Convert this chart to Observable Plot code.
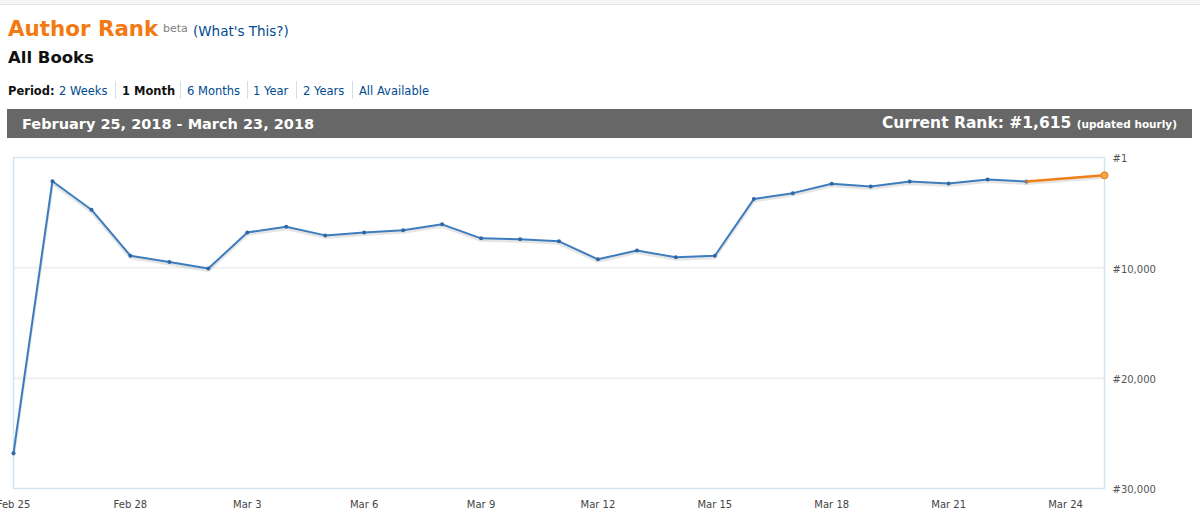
<!DOCTYPE html>
<html>
<head>
<meta charset="utf-8">
<script src="https://cdn.jsdelivr.net/npm/d3@7"></script>
<script src="https://cdn.jsdelivr.net/npm/@observablehq/plot@0.6"></script>
<style>
  body { margin:0; width:1200px; height:526px; overflow:hidden; background:#fff; position:relative;
         font-family:"DejaVu Sans", Verdana, sans-serif; }
  .abs { position:absolute; white-space:nowrap; line-height:1; }
  #topline { position:absolute; left:0; top:0; width:1200px; height:4px; background:#f4f4f4; border-bottom:1px solid #e4e4e4; }
  #t1 { left:8px; top:18px; font-size:21.4px; font-weight:bold; color:#f37a12; }
  #beta { left:163px; top:23px; font-size:11px; color:#808080; }
  #what { left:193px; top:25px; font-size:13.5px; color:#004b91; }
  #books { left:8px; top:50px; font-size:16.5px; font-weight:bold; color:#111; }
  .per { top:85.5px; font-size:11.5px; color:#004b91; }
  .per.b { font-weight:bold; color:#111; }
  .sep { position:absolute; top:81px; width:1px; height:18px; background:#d3dfe9; }
  #bar { position:absolute; left:7px; top:109px; width:1185px; height:29px; background:#676767; }
  #range { left:22px; top:117px; font-size:14.5px; font-weight:bold; color:#fff; }
  #cur { right:23px; top:116px; font-size:15.5px; font-weight:bold; color:#fff; }
  #cur small { font-size:10.5px; }
  #chart { position:absolute; left:0; top:145px; }
</style>
</head>
<body>
<div id="topline"></div>
<div class="abs" id="t1">Author Rank</div>
<div class="abs" id="beta">beta</div>
<div class="abs" id="what">(What's This?)</div>
<div class="abs" id="books">All Books</div>
<div class="abs per b" style="left:8px">Period:</div>
<div class="abs per" style="left:59px">2 Weeks</div>
<div class="sep" style="left:115px"></div>
<div class="abs per b" style="left:122px">1 Month</div>
<div class="sep" style="left:180px"></div>
<div class="abs per" style="left:187px">6 Months</div>
<div class="sep" style="left:247px"></div>
<div class="abs per" style="left:253px">1 Year</div>
<div class="sep" style="left:296px"></div>
<div class="abs per" style="left:303px">2 Years</div>
<div class="sep" style="left:352px"></div>
<div class="abs per" style="left:359px">All Available</div>
<div id="bar"></div>
<div class="abs" id="range">February 25, 2018 - March 23, 2018</div>
<div class="abs" id="cur">Current Rank: #1,615 <small>(updated hourly)</small></div>
<div id="chart"></div>
<script>
// Daily author rank (lower is better)
const dates = ["2018-02-25","2018-02-26","2018-02-27","2018-02-28","2018-03-01","2018-03-02","2018-03-03",
  "2018-03-04","2018-03-05","2018-03-06","2018-03-07","2018-03-08","2018-03-09","2018-03-10","2018-03-11",
  "2018-03-12","2018-03-13","2018-03-14","2018-03-15","2018-03-16","2018-03-17","2018-03-18","2018-03-19",
  "2018-03-20","2018-03-21","2018-03-22","2018-03-23"];
const ranks = [26800, 2150, 4730, 8900, 9480, 10070, 6790,
  6270, 7060, 6790, 6600, 6060, 7330, 7420, 7600,
  9230, 8420, 9050, 8900, 3770, 3230, 2380, 2620,
  2170, 2350, 1990, 2170];
// Current (hourly) segment
const currentDates = ["2018-03-23", "2018-03-25"];
const currentRanks = [2170, 1615];
// Axes
const xDomain = ["2018-02-25", "2018-03-25"];
const xTicks = ["2018-02-25","2018-02-28","2018-03-03","2018-03-06","2018-03-09","2018-03-12",
  "2018-03-15","2018-03-18","2018-03-21","2018-03-24"];
const yTicks = [1, 10000, 20000, 30000];
const yGrid = [10000, 20000];

const parse = d3.utcParse("%Y-%m-%d");
const data = dates.map((d, i) => ({date: parse(d), rank: ranks[i]}));
const current = currentDates.map((d, i) => ({date: parse(d), rank: currentRanks[i]}));
const fmtY = d3.format(",");

const chart = Plot.plot({
  width: 1200,
  height: 381,
  marginLeft: 13,
  marginRight: 96,
  marginTop: 12,
  marginBottom: 38,
  style: {fontFamily: "DejaVu Sans, Verdana, sans-serif", fontSize: "10px", background: "transparent"},
  x: {type: "utc", domain: xDomain.map(parse)},
  y: {domain: [0, 30000], reverse: true},
  marks: [
    Plot.gridY(yGrid, {stroke: "#f0f0f0", strokeOpacity: 1, strokeWidth: 2}),
    Plot.frame({stroke: "#d3e5f3", strokeWidth: 1.5}),
    Plot.line(data, {x: "date", y: "rank", stroke: "#888", strokeOpacity: 0.22, strokeWidth: 3, dy: 2}),
    Plot.line(current, {x: "date", y: "rank", stroke: "#888", strokeOpacity: 0.22, strokeWidth: 3, dy: 2}),
    Plot.line(data, {x: "date", y: "rank", stroke: "#3d7dbd", strokeWidth: 2}),
    Plot.dot(data, {x: "date", y: "rank", r: 2, fill: "#2c68a6"}),
    Plot.line(current, {x: "date", y: "rank", stroke: "#ef8019", strokeWidth: 2.5}),
    Plot.dot(current.slice(-1), {x: "date", y: "rank", r: 3.5, fill: "#f6a746", stroke: "#e8790f", strokeWidth: 1}),
    Plot.axisX({ticks: xTicks.map(parse), tickSize: 0, tickPadding: 12, tickFormat: d3.utcFormat("%b %-d"), color: "#444", label: null}),
    Plot.axisY({anchor: "right", ticks: yTicks, tickSize: 0, tickPadding: 8, textAnchor: "start", dy: 1.5,
      tickFormat: d => "#" + fmtY(d), color: "#555", label: null})
  ]
});
document.getElementById("chart").appendChild(chart);
</script>
</body>
</html>
